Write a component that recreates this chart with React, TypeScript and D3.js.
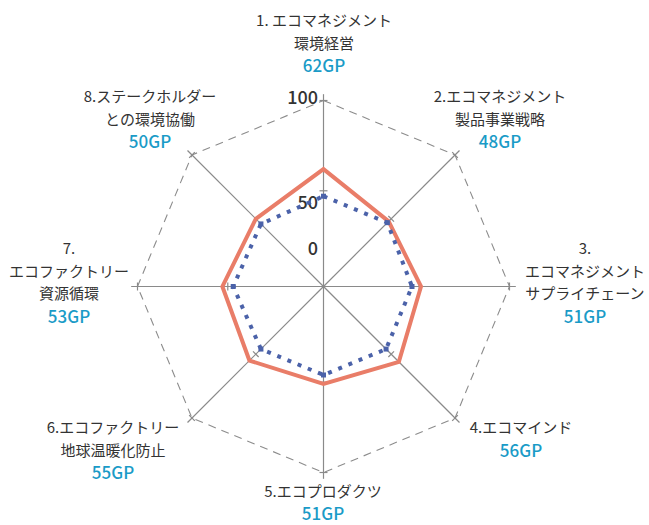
import React from 'react'
import * as d3 from 'd3'

// axis names (each line of the label), clockwise from the top
const categories = [
  ['1. エコマネジメント', '環境経営'],
  ['2.エコマネジメント', '製品事業戦略'],
  ['3.', 'エコマネジメント', 'サプライチェーン'],
  ['4.エコマインド'],
  ['5.エコプロダクツ'],
  ['6.エコファクトリー', '地球温暖化防止'],
  ['7.', 'エコファクトリー', '資源循環'],
  ['8.ステークホルダー', 'との環境協働'],
]
const scores = [62, 48, 51, 56, 51, 55, 53, 50]
const average = [47, 47, 46, 46, 46, 46, 47, 46]
const tickValues = [0, 50, 100]
const tickLabels = ['0', '50', '100']

const W = 649
const H = 525
const cx = 323.5
const cy = 286.5
const FONT = '"Noto Sans CJK JP", "Noto Sans", sans-serif'

// where each category label sits (center x, first line y)
const labelPos: [number, number][] = [
  [324, 21],
  [500, 97],
  [585, 249],
  [521, 428],
  [323, 492],
  [113, 428],
  [69, 249],
  [150, 97],
]

export default function App() {
  const r = d3.scaleLinear().domain([-3, 100]).range([0, 186])
  const angle = d3
    .scaleLinear()
    .domain([0, categories.length])
    .range([0, 2 * Math.PI])

  const pt = (i: number, v: number): [number, number] => {
    const a = angle(i)
    return [cx + r(v) * Math.sin(a), cy - r(v) * Math.cos(a)]
  }

  const line = d3
    .line<number>()
    .x((v, i) => pt(i, v)[0])
    .y((v, i) => pt(i, v)[1])
    .curve(d3.curveLinearClosed)

  const ring = categories.map(() => 100)

  const tickLen = 4
  const tickOffset: Record<string, number> = { '0': -26, '50': 18, '100': 3 }

  return (
    <svg width={W} height={H} style={{ position: 'absolute', left: 0, top: 0 }}>
      <rect width={W} height={H} fill="#fff" />
      {/* outer dashed ring */}
      <path d={line(ring) || ''} fill="none" stroke="#8c8c8c" strokeWidth={1.1} strokeDasharray="8 6" />
      {/* spokes */}
      {categories.map((c, i) => {
        const [x2, y2] = pt(i, 103.5)
        const a = angle(i)
        return (
          <g key={i}>
            <line x1={cx} y1={cy} x2={x2} y2={y2} stroke="#8a8a8a" strokeWidth={1.2} />
            {[50, 100].map((v) => {
              const [x, y] = pt(i, v)
              const dx = Math.cos(a) * tickLen
              const dy = Math.sin(a) * tickLen
              return (
                <line key={v} x1={x - dx} y1={y - dy} x2={x + dx} y2={y + dy} stroke="#8a8a8a" strokeWidth={1.2} />
              )
            })}
          </g>
        )
      })}
      {/* value axis labels */}
      {tickValues.map((v, i) => (
        <text
          key={v}
          x={318}
          y={cy - r(v) + tickOffset[tickLabels[i]]}
          textAnchor="end"
          fontFamily={FONT}
          fontSize={18}
          fontWeight={500}
          fill="#333"
        >
          {tickLabels[i]}
        </text>
      ))}
      {/* series */}
      <path d={line(scores) || ''} fill="none" stroke="#e97d68" strokeWidth={4} strokeLinejoin="miter" />
      <path d={line(average) || ''} fill="none" stroke="#4b62a9" strokeWidth={4} strokeDasharray="4 7" />
      {average.map((v, i) => {
        const [x, y] = pt(i, v)
        return <rect key={i} x={x - 2.5} y={y - 2.5} width={5} height={5} fill="#4b62a9" />
      })}
      {/* category labels */}
      {categories.map((lines, i) => {
        const [lx, ly] = labelPos[i]
        const gap = i === 4 ? 21.5 : 22.5
        return (
          <g key={i} fontFamily={FONT}>
            {lines.map((t, j) => (
              <text key={j} x={lx} y={ly + j * gap} dy="0.35em" textAnchor="middle" fontSize={15} fill="#333">
                {t}
              </text>
            ))}
            <text
              x={lx}
              y={ly + lines.length * gap + 0.5}
              dy="0.35em"
              textAnchor="middle"
              fontSize={17}
              fontWeight={500}
              fill="#1a9bc7"
            >
              {scores[i]}GP
            </text>
          </g>
        )
      })}
    </svg>
  )
}
